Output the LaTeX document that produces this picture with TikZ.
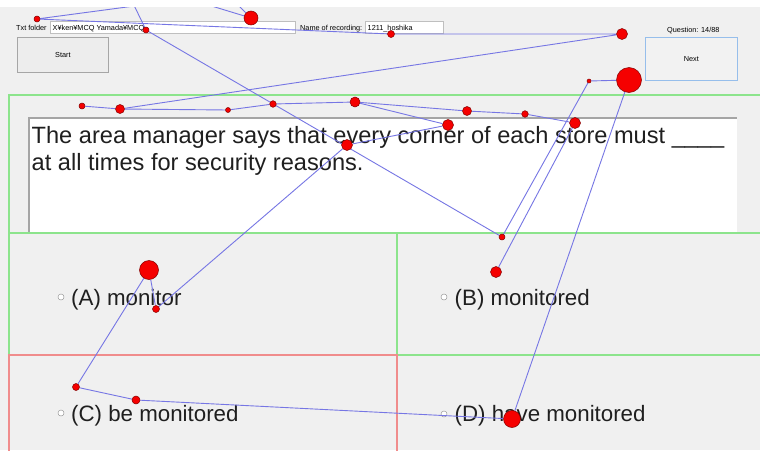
\documentclass[tikz,border=0pt]{standalone}
\usepackage{fontspec}
\setmainfont{Liberation Sans}
\definecolor{winbg}{RGB}{240,240,240}
\definecolor{gazeline}{RGB}{118,118,228}
\definecolor{fixfill}{RGB}{245,0,0}
\definecolor{fixedge}{RGB}{130,0,0}
\definecolor{panelgreen}{RGB}{140,228,140}
\definecolor{panelred}{RGB}{240,140,140}
\definecolor{boxgray}{RGB}{165,165,165}
\definecolor{nextblue}{RGB}{150,190,235}
\pgfdeclarelayer{gazelayer}
\pgfdeclarelayer{dotlayer}
\pgfsetlayers{main,gazelayer,dotlayer}
\tikzset{
  fixdot/.style={circle, fill=fixfill, draw=fixedge, line width=0.5pt, inner sep=0pt, minimum size=#1pt},
  gaze/.style={draw=gazeline, line width=0.9pt},
  small/.style={font=\fontsize{7.3}{9}\selectfont, inner sep=0pt},
  qtext/.style={font=\fontsize{23.6}{27}\selectfont, inner sep=0pt, anchor=base west, text=black!88},
  atext/.style={font=\fontsize{22.3}{26}\selectfont, inner sep=0pt, anchor=base west, text=black!88},
  radio/.style={circle, draw=black!40, fill=white, line width=0.5pt, minimum size=6pt, inner sep=0pt},
  tbox/.style={draw=black!25, fill=white, line width=0.5pt, anchor=north west, inner sep=0pt},
  winbtn/.style={draw=black!35, fill=black!7, line width=0.7pt, anchor=north west, inner sep=0pt, font=\fontsize{7.3}{9}\selectfont},
  panelg/.style={draw=panelgreen, line width=1.2pt},
  panelr/.style={draw=panelred, line width=1.2pt}
}
\begin{document}
\begin{tikzpicture}[x=1pt, y=-1pt]
\useasboundingbox (0,0) rectangle (760,450);
% window background
\fill[winbg] (0,0) rectangle (760,450);

% top toolbar
\node[small, anchor=base west] (lblfolder) at (16,30) {Txt folder};
\node[tbox, minimum width=245pt, minimum height=12pt] (folderbox) at (50,21) {};
\node[small, anchor=base west] (foldertxt) at (52.5,30) {X¥ken¥MCQ Yamada¥MCQ};
\node[small, anchor=base west] (lblrec) at (300,30) {Name of recording:};
\node[tbox, minimum width=78pt, minimum height=12pt] (recbox) at (365,21) {};
\node[small, anchor=base west] (rectxt) at (367.5,30) {1211\_hoshika};
\node[small, anchor=base west] (qcount) at (667,32) {Question: 14/88};
\node[winbtn, minimum width=91pt, minimum height=35pt] (startbtn) at (17,37) {Start};
\node[winbtn, draw=nextblue, fill=black!5, minimum width=92pt, minimum height=43pt] (nextbtn) at (645,37) {Next};

% question panel
\fill[white] (29,118) rectangle (737,233);
\draw[boxgray, line width=1.3pt] (29,233) |- (737,118);
\draw[panelg] (9,233) |- (775,95);
\node[qtext] (qline1) at (31.5,143) {The area manager says that every corner of each store must \_\_\_\_};
\node[qtext] (qline2) at (31.5,170) {at all times for security reasons.};

% answer panels
\draw[panelg] (9,233) rectangle (397,355);
\draw[panelg] (397,233) rectangle (775,355);
\draw[panelg] (397,355) rectangle (775,470);
\draw[panelr] (9,355) rectangle (397,470);
\draw[panelg] (9,233) -- (775,233);

\node[radio] (radA) at (61,297) {};
\node[atext] (ansA) at (71,305) {(A) monitor};
\node[radio] (radB) at (444,297) {};
\node[atext] (ansB) at (454.5,305) {(B) monitored};
\node[radio] (radC) at (61,413) {};
\node[atext] (ansC) at (71,421.5) {(C) be monitored};
\node[radio] (radD) at (444,414) {};
\node[atext] (ansD) at (454.5,421.5) {(D) have monitored};

% fixations
\begin{pgfonlayer}{dotlayer}
\node[fixdot=6]  (f1)  at (37,19)  {};
\node[fixdot=6]  (f2)  at (146,30) {};
\node[fixdot=14] (f3)  at (251,18) {};
\node[fixdot=7]  (f4)  at (391,34) {};
\node[fixdot=11] (f5)  at (622,34) {};
\node[fixdot=25] (f6)  at (629,80) {};
\node[fixdot=4]  (f7)  at (589,81) {};
\node[fixdot=6]  (f8)  at (82,106) {};
\node[fixdot=9]  (f9)  at (120,109) {};
\node[fixdot=5]  (f10) at (228,110) {};
\node[fixdot=6.6] (f11) at (273,104) {};
\node[fixdot=10] (f12) at (355,102) {};
\node[fixdot=9]  (f13) at (467,111) {};
\node[fixdot=6.6] (f14) at (525,114) {};
\node[fixdot=11] (f15) at (575,123) {};
\node[fixdot=11] (f16) at (448,125) {};
\node[fixdot=11] (f17) at (347,145) {};
\node[fixdot=6]  (f18) at (502,237) {};
\node[fixdot=11] (f19) at (496,272) {};
\node[fixdot=19] (f20) at (149,270) {};
\node[fixdot=7]  (f21) at (156,309) {};
\node[fixdot=7]  (f22) at (76,387) {};
\node[fixdot=8]  (f23) at (136,400) {};
\node[fixdot=17] (f24) at (512,419) {};
\end{pgfonlayer}

% scan path
\coordinate (o1) at (202,-3);
\coordinate (o2) at (130,-3);
\coordinate (o3a) at (182,-3);
\coordinate (o3b) at (230,-3);
\begin{pgfonlayer}{gazelayer}
\begin{scope}
\clip (0,7) rectangle (760,450);
\draw[gaze] (o1) -- (f1) -- (f4) -- (f5) -- (f9) -- (f8);
\draw[gaze] (f9) -- (f10) -- (f11) -- (f12) -- (f13) -- (f14) -- (f15) -- (f19);
\draw[gaze] (f12) -- (f16) -- (f17) -- (f21) -- (f20) -- (f22) -- (f23) -- (f24)
  -- (f6) -- (f7) -- (f18) -- (f2) -- (o2);
\draw[gaze] (o3a) -- (f3) -- (o3b);
\end{scope}
\end{pgfonlayer}

% title strip above the window
\fill[white] (0,0) rectangle (760,7);
\end{tikzpicture}
\end{document}
